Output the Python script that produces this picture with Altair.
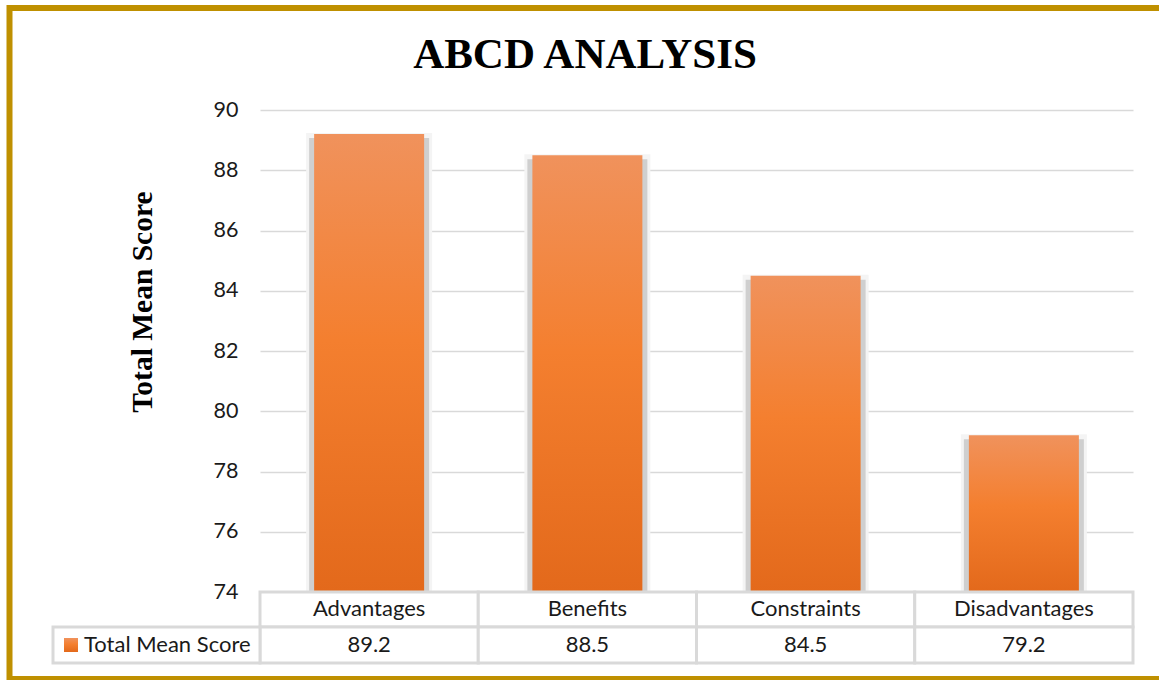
import altair as alt
import pandas as pd

# ---- data ----
categories = ["Advantages", "Benefits", "Constraints", "Disadvantages"]
scores = [89.2, 88.5, 84.5, 79.2]
score_labels = ["89.2", "88.5", "84.5", "79.2"]
series_name = "Total Mean Score"
y_title = "Total Mean Score"
chart_title = "ABCD ANALYSIS"
y_ticks = [74, 76, 78, 80, 82, 84, 86, 88, 90]
y_min, y_max = 74, 90

df = pd.DataFrame({"category": categories, "score": scores, "label": score_labels})
one = pd.DataFrame({"k": [0]})

W, H = 873, 482
TXT = "#1a1a1a"
GRID = "#D9D9D9"

orange = alt.LinearGradient(
    gradient="linear", x1=0, x2=0, y1=0, y2=1,
    stops=[
        alt.GradientStop(offset=0, color="#F0925C"),
        alt.GradientStop(offset=0.45, color="#F47F2F"),
        alt.GradientStop(offset=1, color="#E3691B"),
    ],
)

x_enc = alt.X("category:N", sort=categories,
              scale=alt.Scale(paddingInner=0, paddingOuter=0), axis=None)
y_scale = alt.Scale(domain=[y_min, y_max], zero=False, nice=False)
y_axis = alt.Axis(values=y_ticks, title=None, domain=False, ticks=False,
                  labelFont="Lato", labelFontSize=21.5, labelColor=TXT,
                  labelPadding=22, gridColor=GRID, gridWidth=1.5)

base = alt.Chart(df)

halo = base.mark_bar(size=126, color="#F4F4F4", yOffset=-1).encode(
    x=x_enc, y=alt.Y("score:Q", scale=y_scale, axis=y_axis), y2=alt.datum(y_min))
shadow = base.mark_bar(size=120, color="#CFCFCF", yOffset=4).encode(
    x=x_enc, y=alt.Y("score:Q"), y2=alt.datum(y_min))
bars = base.mark_bar(size=110, color=orange).encode(
    x=x_enc, y=alt.Y("score:Q"), y2=alt.datum(y_min))

# data table
cell_style = dict(fill="white", stroke=GRID, strokeWidth=3)
head_cells = base.mark_rect(**cell_style).encode(
    x=x_enc, y=alt.value(482), y2=alt.value(517))
val_cells = base.mark_rect(**cell_style).encode(
    x=x_enc, y=alt.value(517), y2=alt.value(553))
legend_cell = alt.Chart(one).mark_rect(**cell_style).encode(
    x=alt.value(-207), x2=alt.value(0), y=alt.value(517), y2=alt.value(553))
legend_square = alt.Chart(one).mark_rect(color=orange).encode(
    x=alt.value(-196), x2=alt.value(-182), y=alt.value(528), y2=alt.value(542))

txt_style = dict(font="Lato", fontSize=22, color=TXT, baseline="middle")
cat_text = base.mark_text(**txt_style).encode(
    x=x_enc, y=alt.value(499), text="category:N")
val_text = base.mark_text(**txt_style).encode(
    x=x_enc, y=alt.value(535), text="label:N")
legend_text = alt.Chart(one).mark_text(align="left", **txt_style).encode(
    x=alt.value(-176), y=alt.value(535), text=alt.value(series_name))

ytitle = alt.Chart(one).mark_text(
    font="Liberation Serif", fontWeight="bold", fontSize=29.5, color="black",
    angle=270, baseline="middle", align="center").encode(
    x=alt.value(-117), y=alt.value(192), text=alt.value(y_title))

title = alt.Chart(one).mark_text(
    font="Liberation Serif", fontWeight="bold", fontSize=43, color="black",
    baseline="middle", align="center").encode(
    x=alt.value(325), y=alt.value(-55), text=alt.value(chart_title))

border = alt.Chart(one).mark_rect(fill="transparent", stroke="#BF9000", strokeWidth=6).encode(
    x=alt.value(-250.5), x2=alt.value(912), y=alt.value(-102), y2=alt.value(569))

chart = alt.layer(
    halo, shadow, bars, head_cells, val_cells, legend_cell, legend_square,
    cat_text, val_text, legend_text, ytitle, title, border,
).properties(
    width=W, height=H,
    autosize=alt.AutoSizeParams(type="none"),
    padding={"left": 260, "top": 110, "right": 26, "bottom": 88},
    background="white",
).configure_view(strokeWidth=0)

chart.save("out.html", embed_options={"renderer": "svg", "actions": False})
